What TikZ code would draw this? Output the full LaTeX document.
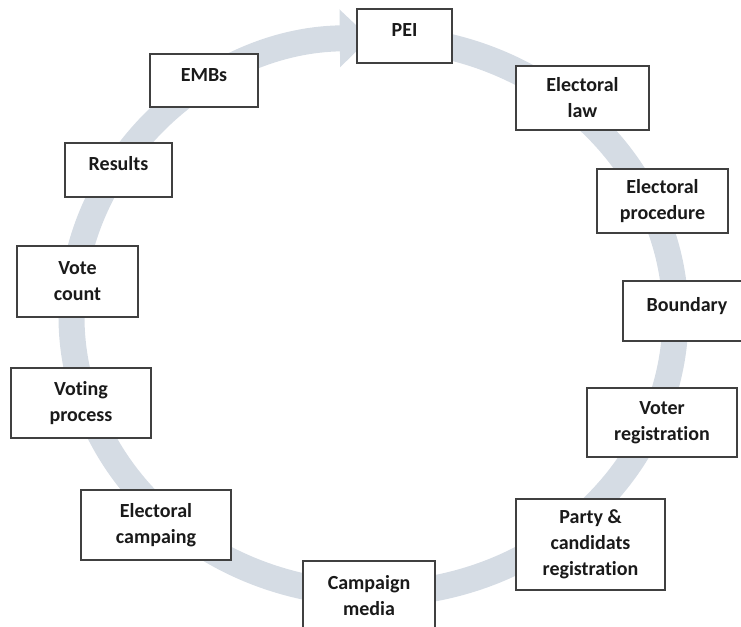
\documentclass[tikz,border=0pt]{standalone}
\usepackage{fontspec}
\setmainfont{Carlito}[Ligatures=NoCommon]
\usetikzlibrary{arrows.meta}
\definecolor{ringc}{HTML}{D5DCE4}
\definecolor{boxline}{HTML}{404040}
\definecolor{txt}{HTML}{1A1A1A}
\begin{document}
\begin{tikzpicture}[x=1pt,y=1pt,
  stage/.style={draw=boxline, line width=1.6pt, fill=white, align=center,
    font=\fontsize{20}{26}\selectfont\bfseries, text=txt, inner sep=0pt},
  oneline/.style={text height=8pt, text depth=6pt},
  ring/.style={draw=ringc, line width=26pt, -{Triangle[length=30pt,width=56pt]}}]
\useasboundingbox (0,0) rectangle (741,626);
\coordinate (ctr) at (373.5,310);
\draw[ring] (ctr) ++(85:302 and 278) arc[start angle=85, end angle=-269.3, x radius=302, y radius=278];

\node[stage, oneline, minimum width=95, minimum height=54] (pei) at (404.5,590) {PEI};
\node[stage, oneline, minimum width=108, minimum height=53] (embs) at (204,545.5) {EMBs};
\node[stage, oneline, minimum width=107, minimum height=54] (results) at (118.5,456) {Results};
\node[stage, minimum width=121, minimum height=71] (vote) at (77.5,344.5) {Vote\\count};
\node[stage, minimum width=133, minimum height=64] (elaw) at (582.5,528) {Electoral\\law};
\node[stage, minimum width=131, minimum height=64] (eproc) at (662.5,425) {Electoral\\procedure};
\node[stage, oneline, minimum width=128, minimum height=60] (bound) at (687,315) {Boundary};
\node[stage, minimum width=140, minimum height=70] (voting) at (81,223) {Voting\\process};
\node[stage, minimum width=150, minimum height=70] (ecamp) at (156,101) {Electoral\\campaing};
\node[stage, minimum width=132, minimum height=70] (cmedia) at (369,30) {Campaign\\media};
\node[stage, minimum width=150, minimum height=69] (vreg) at (662,203.5) {Voter\\registration};
\node[stage, minimum width=149, minimum height=91] (party) at (590.5,81.5) {Party \&\\candidats\\registration};
\end{tikzpicture}
\end{document}
